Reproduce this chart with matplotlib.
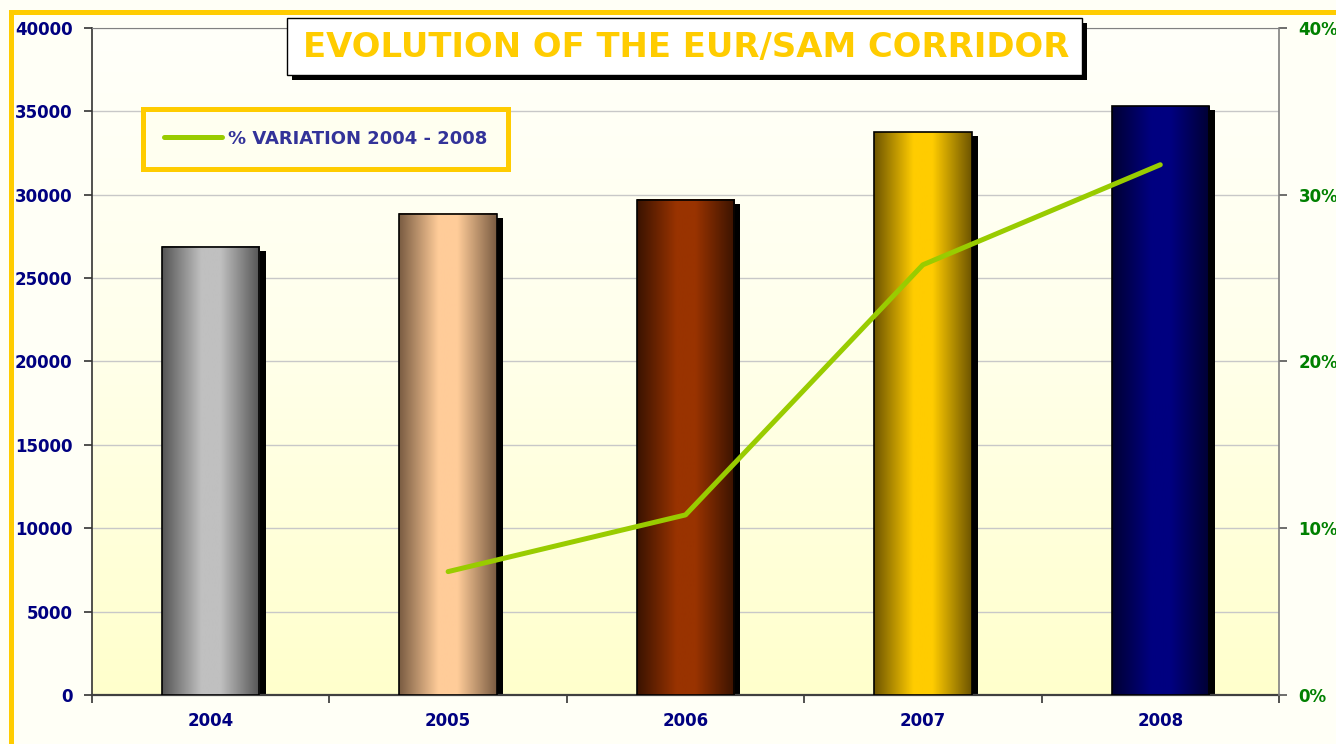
import numpy as np
import matplotlib.pyplot as plt
import matplotlib.patheffects as pe
from matplotlib.patches import Rectangle
from matplotlib.lines import Line2D
from matplotlib.colors import LinearSegmentedColormap

# data
years = ["2004", "2005", "2006", "2007", "2008"]
corridor = [26870, 28850, 29690, 33760, 35320]
variation_years = ["2005", "2006", "2007", "2008"]
variation = [7.4, 10.8, 25.8, 31.8]
bar_light = ["#C0C0C0", "#FFCC99", "#993300", "#FFCC00", "#000080"]
bar_dark = ["#555555", "#7A5C42", "#3A1300", "#6E5500", "#000033"]

plt.rcParams["font.family"] = ["DejaVu Sans"]
plt.rcParams["font.weight"] = "bold"

W, H = 1336, 744
fig = plt.figure(figsize=(W / 100, H / 100), dpi=100)
fig.patch.set_facecolor("#FFFFF6")

ax = fig.add_axes([92 / W, 1 - 695 / H, (1279 - 92) / W, (695 - 28) / H])

# plot area background gradient
bg = LinearSegmentedColormap.from_list("bg", [(0, "#FFFFCC"), (0.55, "#FFFFEC"), (1, "#FFFFFA")])
ax.imshow(np.linspace(0, 1, 256)[:, None], cmap=bg, origin="lower",
          extent=[0, 1, 0, 1], transform=ax.transAxes, aspect="auto", zorder=0)

xs = np.arange(len(years))
bars = ax.bar(xs, corridor, width=0.41, color="black", zorder=2,
              path_effects=[pe.SimplePatchShadow(offset=(4.5, -3), shadow_rgbFace="black", alpha=1.0),
                            pe.Normal()])

for b, light, dark in zip(bars, bar_light, bar_dark):
    cmap = LinearSegmentedColormap.from_list("bar", [(0, dark), (0.4, light), (0.6, light), (1, dark)])
    img = cmap(np.linspace(0, 1, 128))[None, :, :]
    x0, w, h = b.get_x(), b.get_width(), b.get_height()
    ax.imshow(img, extent=[x0, x0 + w, 0, h], aspect="auto", zorder=3, interpolation="bilinear")
    ax.add_patch(Rectangle((x0, 0), w, h, fill=False, edgecolor="black", lw=1.2, zorder=4))

ax.set_xlim(-0.5, len(years) - 0.5)
ax.set_ylim(0, 40000)
ax.set_yticks(range(0, 40001, 5000))
ax.set_xticks(np.arange(-0.5, len(years), 1))
ax.set_xticklabels([])
ax.set_xticks(xs, minor=True)
ax.set_xticklabels(years, minor=True)
ax.tick_params(axis="x", which="major", length=6, width=1.2, color="#333333", direction="out")
ax.tick_params(axis="x", which="minor", length=0, pad=12, labelsize=12, labelcolor="#000080")
ax.tick_params(axis="y", length=6, width=1.2, color="#333333", pad=8, labelsize=12, labelcolor="#000080")
ax.set_axisbelow(True)
ax.grid(axis="y", color="#C8C8C8", lw=1)
ax.spines["right"].set_visible(False)
ax.spines["top"].set_color("#808080")
ax.spines["left"].set_color("#333333")
ax.spines["left"].set_linewidth(1.2)
ax.spines["bottom"].set_color("#404040")
ax.spines["bottom"].set_linewidth(1.6)

# % variation line on the right axis
ax2 = ax.twinx()
vx = [years.index(y) for y in variation_years]
ax2.plot(vx, variation, color="#99CC00", lw=3.6, solid_capstyle="round",
         solid_joinstyle="round", zorder=5, label="% VARIATION 2004 - 2008")
ax2.set_ylim(0, 40)
ax2.set_yticks(range(0, 41, 10))
ax2.set_yticklabels([f"{v}%" for v in range(0, 41, 10)])
ax2.tick_params(axis="y", length=6, width=1.2, color="#555555", pad=8, labelsize=12, labelcolor="#008000")
for s in ["left", "top", "bottom"]:
    ax2.spines[s].set_visible(False)
ax2.spines["right"].set_color("#808080")
ax2.spines["right"].set_linewidth(1.2)

leg = ax2.legend(loc="upper left", bbox_to_anchor=(143 / W, 1 - 109 / H), bbox_transform=fig.transFigure,
                 prop=dict(weight="bold", size=13), labelcolor="#333399", fancybox=False,
                 edgecolor="#FFCC00", facecolor="#FFFFF0", framealpha=1, borderpad=1.15,
                 handlelength=3.2, handletextpad=0.35, borderaxespad=0)
leg.get_frame().set_linewidth(3.6)

# title box with shadow
fig.add_artist(Rectangle((292 / W, 1 - 80 / H), 795 / W, 57 / H, transform=fig.transFigure,
                         facecolor="black", edgecolor="none", zorder=1))
fig.add_artist(Rectangle((287 / W, 1 - 75 / H), 795 / W, 57 / H, transform=fig.transFigure,
                         facecolor="white", edgecolor="black", lw=1, zorder=1.1))
fig.text(686 / W, 1 - 47 / H, "EVOLUTION OF THE EUR/SAM CORRIDOR", ha="center", va="center",
         fontsize=24.4, fontweight="bold", color="#FFCC00", zorder=2)

# outer yellow frame
fig.add_artist(Line2D([11 / W, 11 / W], [0, 1 - 12 / H], color="#FFCC00", lw=3.6,
                      solid_capstyle="projecting", transform=fig.transFigure))
fig.add_artist(Line2D([11 / W, 1], [1 - 12 / H, 1 - 12 / H], color="#FFCC00", lw=3.6,
                      solid_capstyle="projecting", transform=fig.transFigure))

fig.savefig("out.png", dpi=100, facecolor=fig.get_facecolor())
